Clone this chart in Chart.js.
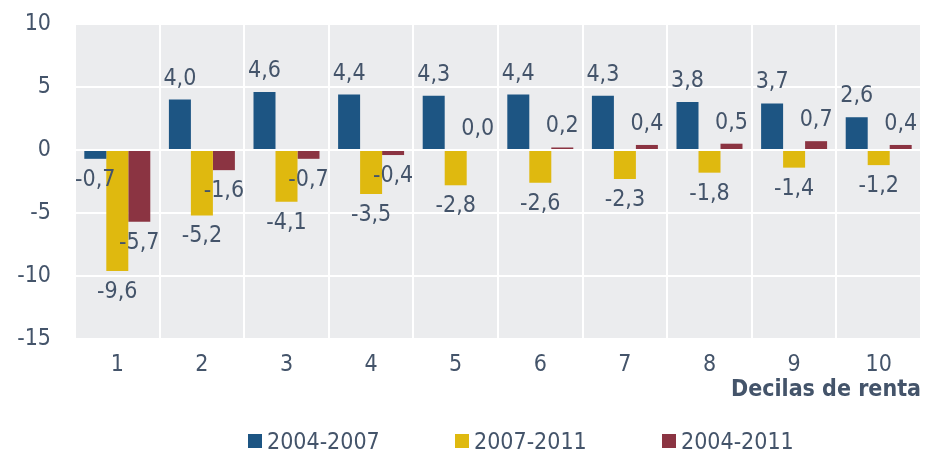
<!DOCTYPE html>
<html>
<head>
<meta charset="utf-8">
<script src="https://cdn.jsdelivr.net/npm/chart.js@4"></script>
<style>
  body { margin: 0; background: #fff; }
  #wrap { position: relative; width: 930px; height: 451px; }
  #legend { position: absolute; left: 248px; top: 428px; display: flex;
            font-family: "DejaVu Sans Condensed", "DejaVu Sans", sans-serif; font-size: 23px; color: #44546a; }
  #legend .item { width: 207px; display: flex; align-items: center; white-space: nowrap; }
  #legend .box { width: 14px; height: 14px; margin-right: 5px; }
</style>
</head>
<body>
<div id="wrap">
  <canvas id="grafica" width="930" height="451"></canvas>
  <div id="legend"></div>
</div>
<script>
const deciles = ['1', '2', '3', '4', '5', '6', '7', '8', '9', '10'];
const serie0407 = [-0.7, 4.0, 4.6, 4.4, 4.3, 4.4, 4.3, 3.8, 3.7, 2.6];
const serie0711 = [-9.6, -5.2, -4.1, -3.5, -2.8, -2.6, -2.3, -1.8, -1.4, -1.2];
const serie0411 = [-5.7, -1.6, -0.7, -0.4, 0.0, 0.2, 0.4, 0.5, 0.7, 0.4];
const seriesNames = ['2004-2007', '2007-2011', '2004-2011'];
const colores = ['#1d5583', '#dfb90f', '#8b3442'];

const FONT = '"DejaVu Sans Condensed", "DejaVu Sans", sans-serif';
const TEXT = '#44546a';

// fondo gris del area de trazado
const fondo = {
  id: 'fondo',
  beforeDraw(chart) {
    const a = chart.chartArea, ctx = chart.ctx;
    ctx.save();
    ctx.fillStyle = '#ebecee';
    ctx.fillRect(a.left, a.top, a.right - a.left, a.bottom - a.top);
    ctx.restore();
  }
};

// etiquetas de valor encima / debajo de cada barra
const etiquetas = {
  id: 'etiquetas',
  afterDatasetsDraw(chart) {
    const ctx = chart.ctx;
    ctx.save();
    ctx.font = '23px ' + FONT;
    ctx.fillStyle = TEXT;
    ctx.textAlign = 'center';
    ctx.textBaseline = 'middle';
    chart.data.datasets.forEach((ds, i) => {
      chart.getDatasetMeta(i).data.forEach((bar, j) => {
        const v = ds.data[j];
        const y = v >= 0 ? bar.y - 21 : bar.y + 21;
        ctx.fillText(v.toFixed(1).replace('.', ','), bar.x, y);
      });
    });
    ctx.restore();
  }
};

const data = {
  labels: deciles,
  datasets: [serie0407, serie0711, serie0411].map((d, i) => ({
    label: seriesNames[i],
    data: d,
    backgroundColor: colores[i],
    categoryPercentage: 0.78,
    barPercentage: 1
  }))
};

new Chart(document.getElementById('grafica'), {
  type: 'bar',
  data: data,
  plugins: [fondo, etiquetas],
  options: {
    responsive: false,
    animation: false,
    layout: { padding: { top: 24, right: 9, bottom: 47, left: 0 } },
    plugins: { legend: { display: false }, tooltip: { enabled: false } },
    scales: {
      x: {
        grid: { color: '#ffffff', lineWidth: 2, drawTicks: false, offset: true },
        border: { display: false },
        ticks: { color: TEXT, font: { family: FONT, size: 23 }, padding: 12 },
        title: { display: true, text: 'Decilas de renta', align: 'end', color: TEXT,
                 font: { family: FONT, size: 23, weight: 'bold' }, padding: 0 },
        afterFit(s) { s.height = 65; }
      },
      y: {
        min: -15, max: 10,
        grid: { color: '#ffffff', lineWidth: 2, drawTicks: false },
        border: { display: false },
        ticks: { stepSize: 5, color: TEXT, font: { family: FONT, size: 23 }, padding: 24 },
        afterFit(s) { s.width = 75; s.paddingTop = 0; s.paddingBottom = 0; }
      }
    }
  }
});

const legend = document.getElementById('legend');
seriesNames.forEach((n, i) => {
  const it = document.createElement('div');
  it.className = 'item';
  it.innerHTML = '<span class="box" style="background:' + colores[i] + '"></span><span>' + n + '</span>';
  legend.appendChild(it);
});
</script>
</body>
</html>
